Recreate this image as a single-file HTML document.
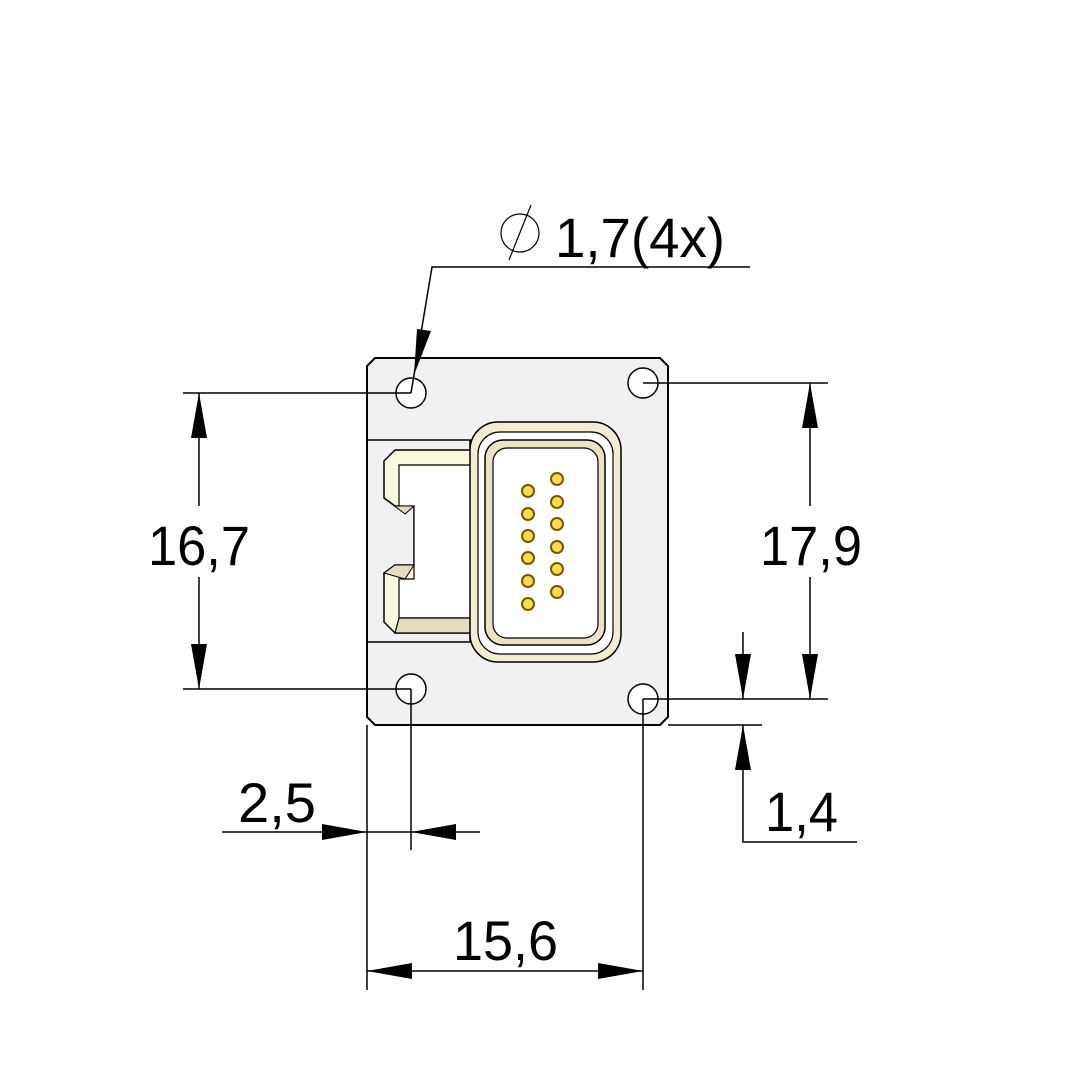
<!DOCTYPE html>
<html><head><style>html,body{margin:0;padding:0;background:#fff}svg{display:block}</style></head>
<body>
<svg width="1083" height="1083" viewBox="0 0 1083 1083" xmlns="http://www.w3.org/2000/svg" font-family="Liberation Sans, sans-serif">
<rect width="1083" height="1083" fill="#fff"/>
<path d="M375,358 L660,358 L668,366 L668,717 L660,725 L375,725 L367,717 L367,366 Z" fill="#f1f1f1" stroke="#000" stroke-width="2"/>
<path d="M367,440 L470,440 L470,642 L367,642" fill="none" stroke="#000" stroke-width="1.5"/>
<path d="M384,461 L395,450 L485,450 L485,633 L395,633 L384,622 L384,573 L395,565 L414,565 L414,506 L395,506 L384,498 Z" fill="#fbf9dc" stroke="#000" stroke-width="1.5"/>
<path d="M399,465 L485,465 L485,618 L399,618 L399,579 L414,579 L414,506 L399,506 Z" fill="#fff" stroke="#000" stroke-width="1.2"/>
<path d="M395,633 L399,618 L485,618 L485,633 Z" fill="#e6dcc0" stroke="#000" stroke-width="1.2"/>
<path d="M384,498 L395,506 L414,506 L405,514 Z M384,573 L395,565 L414,565 L405,579 Z" fill="#e6dcc0" stroke="#000" stroke-width="1"/>
<rect x="470" y="422" width="151" height="240" rx="28" fill="#f4ecd2" stroke="#000" stroke-width="1.5"/>
<rect x="478" y="432" width="135" height="222" rx="22" fill="#fff" stroke="#000" stroke-width="1.2"/>
<rect x="485" y="440" width="120" height="205" rx="18" fill="#ebe2c4" stroke="#000" stroke-width="1.5"/>
<rect x="493" y="448" width="105" height="190" rx="14" fill="#fff" stroke="#000" stroke-width="1.2"/>
<g fill="#f5de4a" stroke="#7a5500" stroke-width="2">
<circle cx="528" cy="491" r="6"/><circle cx="528" cy="514" r="6"/><circle cx="528" cy="536" r="6"/><circle cx="528" cy="558" r="6"/><circle cx="528" cy="581" r="6"/><circle cx="528" cy="604" r="6"/>
<circle cx="557" cy="479" r="6"/><circle cx="557" cy="502" r="6"/><circle cx="557" cy="524" r="6"/><circle cx="557" cy="547" r="6"/><circle cx="557" cy="569" r="6"/><circle cx="557" cy="592" r="6"/>
</g>
<g fill="#fff" stroke="#000" stroke-width="1.5">
<circle cx="411" cy="393" r="15"/><circle cx="643" cy="383" r="15"/><circle cx="411" cy="689" r="15"/><circle cx="643" cy="699" r="15"/>
</g>
<g stroke="#000" stroke-width="1.5" fill="none">
<path d="M183,393 H411 M183,689 H411"/>
<path d="M199,393 V506 M199,577 V689"/>
<path d="M643,383 H828 M643,699 H828"/>
<path d="M810,383 V506 M810,577 V699"/>
<path d="M668,725 H762"/>
<path d="M743,632 V699 M743,725 V842 H857"/>
<path d="M367,725 V990 M411,689 V850 M643,699 V990"/>
<path d="M222,832 H480"/>
<path d="M367,971 H643"/>
<path d="M411,393 L432,267 H750"/>
</g>
<g fill="#000">
<path d="M199,393 L191,438 L207,438 Z"/><path d="M199,689 L191,644 L207,644 Z"/>
<path d="M810,383 L802,428 L818,428 Z"/><path d="M810,699 L802,654 L818,654 Z"/>
<path d="M743,699 L735,654 L751,654 Z"/><path d="M743,725 L735,770 L751,770 Z"/>
<path d="M367,832 L322,824 L322,840 Z"/><path d="M411,832 L456,824 L456,840 Z"/>
<path d="M367,971 L412,963 L412,979 Z"/><path d="M643,971 L598,963 L598,979 Z"/>
<path d="M414,375 L417,329 L431,331 Z"/>
</g>
<circle cx="520" cy="233" r="19" fill="none" stroke="#000" stroke-width="1.2"/>
<line x1="531" y1="205" x2="509" y2="260" stroke="#000" stroke-width="1.2"/>
<g font-size="56" fill="#000">
<text x="555" y="257" textLength="170" lengthAdjust="spacingAndGlyphs">1,7(4x)</text>
<text x="148" y="565" textLength="102" lengthAdjust="spacingAndGlyphs">16,7</text>
<text x="760" y="565" textLength="102" lengthAdjust="spacingAndGlyphs">17,9</text>
<text x="238" y="822" textLength="78" lengthAdjust="spacingAndGlyphs">2,5</text>
<text x="453" y="960" textLength="105" lengthAdjust="spacingAndGlyphs">15,6</text>
<text x="765" y="831" textLength="73" lengthAdjust="spacingAndGlyphs">1,4</text>
</g>
</svg>
</body></html>
